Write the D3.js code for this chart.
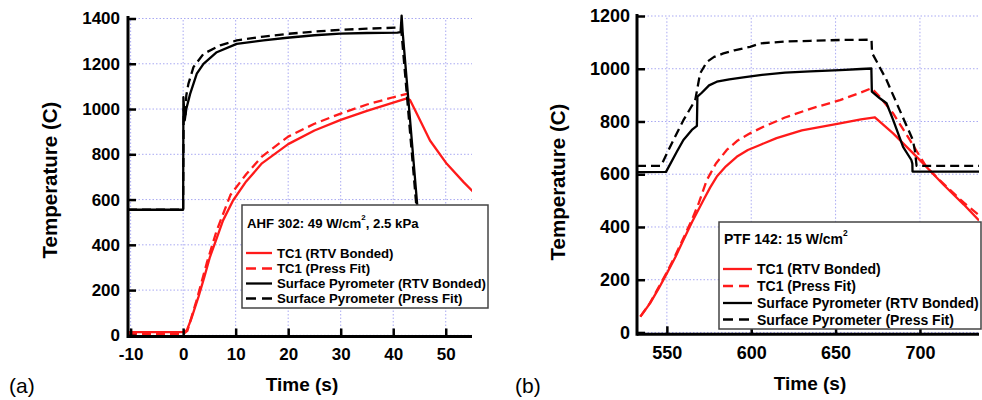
<!DOCTYPE html>
<html>
<head>
<meta charset="utf-8">
<script src="https://cdn.jsdelivr.net/npm/d3@7"></script>
<style>
  html, body { margin: 0; padding: 0; background: #fff; }
  svg { display: block; }
  text { font-family: Arial, "Liberation Sans", sans-serif; }
</style>
</head>
<body>
<svg id="fig" width="982" height="400"></svg>
<script>
// ---- Panel (a): AHF 302, time in s, temperature in C ----
const ahfTicksX = [-10, 0, 10, 20, 30, 40, 50];
const ahfTicksY = [0, 200, 400, 600, 800, 1000, 1200, 1400];
const ahfTc1Bonded = [[-10.5,14],[0,14],[0.7,22],[1.5,70],[2.9,169],[4,255],[5.1,346],[6.4,430],[7.6,508],[9.5,596],[12,680],[15,760],[20,845],[25,905],[30,952],[35,992],[40,1028],[42.6,1047],[43.2,1040],[44.5,979],[47,861],[50.2,758],[53.4,677],[55.3,633]];
const ahfTc1Press = [[-10.5,5],[0,5],[0.8,20],[2.5,150],[4.5,320],[6.4,464],[9,620],[12,712],[15,790],[20,878],[25,935],[30,980],[35,1020],[40,1052],[42.8,1068]];
const ahfPyroBonded = [[-10.5,555],[0,555],[0.05,1052],[0.3,950],[0.6,1000],[1.33,1067],[2.6,1156],[3.87,1200],[6.4,1251],[10.2,1288],[15.3,1303],[19.8,1315],[25,1326],[29.9,1333],[35,1336],[40.8,1338],[41.4,1340],[41.6,1413],[41.8,1340],[44.5,596],[45.6,300]];
const ahfPyroPress = [[-10.5,555],[0,555],[0.1,1000],[0.4,960],[0.6,1060],[1,1111],[1.96,1185],[3.87,1244],[7.05,1281],[10.2,1303],[15.3,1320],[19.8,1332],[25,1342],[29.9,1350],[35,1355],[41.2,1360],[41.5,1360],[44.3,600],[45.4,300]];

// ---- Panel (b): PTF 142 ----
const ptfTicksX = [550, 600, 650, 700];
const ptfTicksY = [0, 200, 400, 600, 800, 1000, 1200];
const ptfTc1Bonded = [[534.3,60],[540,110],[545,165],[550,224],[555,285],[559.8,351],[565,420],[571.7,502],[575.7,550],[579.6,591],[585,630],[591.4,666],[598,692],[605.2,711],[615,737],[630,766],[652.6,793],[665,808],[673.3,816],[684.1,755],[696,679],[702,640],[708,600],[714,560],[720,522],[726,485],[735,425]];
const ptfTc1Press = [[534.3,60],[540,112],[545,170],[550,228],[555,292],[560,360],[565,430],[569,492],[573.7,578],[579,640],[585.5,692],[592,728],[599.3,755],[607.2,780],[620,815],[635,848],[652.6,881],[665,910],[671.3,926],[676.2,894],[684.1,831],[694,730],[703.8,628],[710,588],[718,540],[726,492],[735,445]];
const ptfPyroBonded = [[532.3,608],[549.5,609],[555.9,685],[559.8,730],[564.8,768],[567.8,783],[568.1,894],[570.7,909],[575,937],[579.6,951],[587,960],[595.3,967],[605.2,976],[620,985],[635,990],[652.6,995],[665,999],[671.2,1001],[671.5,913],[676.2,888],[680.2,869],[684.1,806],[690,704],[694.9,654],[695.5,640],[695.6,610],[735,610]];
const ptfPyroPress = [[532.3,632],[546.5,632],[553.9,730],[559.8,805],[566.8,881],[568.5,940],[569.7,982],[573.7,1026],[578,1045],[583.5,1058],[590,1070],[599.3,1083],[605.2,1096],[620,1103],[635,1106],[652.6,1109],[671.3,1110],[671.6,1060],[675,1020],[680.2,957],[688,843],[695.8,730],[697,690],[698,632],[735,632]];

const legendLabels = ["TC1 (RTV Bonded)", "TC1 (Press Fit)", "Surface Pyrometer (RTV Bonded)", "Surface Pyrometer (Press Fit)"];
const RED = "#ff1a1a", BLACK = "#000";
const DASH = "9,5";

const svg = d3.select("#fig");
const gridColor = "#a9a9f2";

function panel(cfg) {
  const x = d3.scaleLinear().domain(cfg.xDomain).range(cfg.xRange);
  const y = d3.scaleLinear().domain(cfg.yDomain).range(cfg.yRange);
  const g = svg.append("g");
  const [x0, x1] = cfg.xRange;
  const [yb, yt] = cfg.yRange;

  // dotted grid
  g.append("g").selectAll("line.v").data(cfg.ticksX).join("line")
    .attr("x1", d => x(d)).attr("x2", d => x(d))
    .attr("y1", yb).attr("y2", y(cfg.ticksY[cfg.ticksY.length - 1]))
    .attr("stroke", gridColor).attr("stroke-width", 1).attr("stroke-dasharray", "1.5,2");
  g.append("g").selectAll("line.h").data(cfg.ticksY).join("line")
    .attr("x1", x0).attr("x2", x1)
    .attr("y1", d => y(d)).attr("y2", d => y(d))
    .attr("stroke", gridColor).attr("stroke-width", 1).attr("stroke-dasharray", "1.5,2");

  // data lines
  const clipId = "clip" + cfg.id;
  g.append("clipPath").attr("id", clipId).append("rect")
    .attr("x", x0).attr("y", 0).attr("width", x1 - x0).attr("height", yb);
  const line = d3.line().x(d => x(d[0])).y(d => y(d[1]));
  const series = [
    { data: cfg.tc1Bonded, color: RED, dash: null },
    { data: cfg.tc1Press, color: RED, dash: DASH },
    { data: cfg.pyroBonded, color: BLACK, dash: null },
    { data: cfg.pyroPress, color: BLACK, dash: DASH }
  ];
  const lines = g.append("g").attr("clip-path", `url(#${clipId})`);
  series.forEach(s => {
    lines.append("path").attr("d", line(s.data))
      .attr("fill", "none").attr("stroke", s.color).attr("stroke-width", 2.3)
      .attr("stroke-linejoin", "round")
      .attr("stroke-dasharray", s.dash);
  });

  // axes with inward ticks
  const fmt = d => String(d);
  const ax = g.append("g").attr("transform", `translate(0,${yb})`)
    .call(d3.axisBottom(x).tickValues(cfg.ticksX).tickFormat(fmt).tickSizeInner(-8).tickSizeOuter(0).tickPadding(cfg.xPad));
  const ay = g.append("g").attr("transform", `translate(${x0},0)`)
    .call(d3.axisLeft(y).tickValues(cfg.ticksY).tickFormat(fmt).tickSizeInner(-8).tickSizeOuter(0).tickPadding(cfg.yPad));
  [ax, ay].forEach(a => {
    a.select(".domain").remove();
    a.selectAll(".tick line").attr("stroke", "#000").attr("stroke-width", 2.5);
    a.selectAll(".tick text").attr("fill", "#000").attr("font-size", cfg.tickFont)
      .attr("font-weight", "bold").attr("font-family", "Arial, 'Liberation Sans', sans-serif");
  });
  g.append("line").attr("x1", x0).attr("x2", x1).attr("y1", yb).attr("y2", yb)
    .attr("stroke", "#000").attr("stroke-width", 3);
  g.append("line").attr("x1", x0).attr("x2", x0).attr("y1", yb + 1.5).attr("y2", cfg.yTop)
    .attr("stroke", "#000").attr("stroke-width", 3);

  // axis titles
  g.append("text").attr("x", cfg.xTitle[0]).attr("y", cfg.xTitle[1])
    .attr("text-anchor", "middle").attr("dominant-baseline", "central")
    .attr("font-size", cfg.titleFont).attr("font-weight", "bold").text("Time (s)");
  g.append("text")
    .attr("transform", `translate(${cfg.yTitle[0]},${cfg.yTitle[1]}) rotate(-90)`)
    .attr("text-anchor", "middle").attr("dominant-baseline", "central")
    .attr("font-size", cfg.yTitleFont).attr("font-weight", "bold").text("Temperature (C)");

  // panel letter
  g.append("text").attr("x", cfg.letter[0]).attr("y", cfg.letter[1])
    .attr("font-family", "'Liberation Serif', 'Times New Roman', serif")
    .attr("font-size", 21).attr("dominant-baseline", "central").text(cfg.letterText);

  // legend box
  const L = cfg.legend;
  const lg = g.append("g");
  lg.append("rect").attr("x", L.x).attr("y", L.y).attr("width", L.w).attr("height", L.h)
    .attr("fill", "#fff").attr("stroke", "#444").attr("stroke-width", 1.5);
  const title = lg.append("text").attr("x", L.x + 5).attr("y", L.titleY)
    .attr("font-size", L.font).attr("font-weight", "bold").attr("dominant-baseline", "central");
  title.append("tspan").text(L.titleA);
  title.append("tspan").attr("font-size", L.font * 0.6).attr("dy", -6).text("2");
  title.append("tspan").attr("dy", 6).text(L.titleB);
  series.forEach((s, i) => {
    const yy = L.rowY[i];
    lg.append("line").attr("x1", L.sx0).attr("x2", L.sx1).attr("y1", yy).attr("y2", yy)
      .attr("stroke", s.color).attr("stroke-width", 2.3).attr("stroke-dasharray", s.dash ? "10,6" : null);
    lg.append("text").attr("x", L.tx).attr("y", yy).attr("dominant-baseline", "central")
      .attr("font-size", L.font).attr("font-weight", "bold").text(legendLabels[i]);
  });
}

panel({
  id: "a",
  xDomain: [-10.5, 55], xRange: [128, 472],
  yDomain: [-5, 1400], yRange: [336.5, 18.5], yTop: 16,
  ticksX: ahfTicksX, ticksY: ahfTicksY,
  tc1Bonded: ahfTc1Bonded, tc1Press: ahfTc1Press, pyroBonded: ahfPyroBonded, pyroPress: ahfPyroPress,
  xPad: 11, yPad: 8, tickFont: 17, titleFont: 19, yTitleFont: 20.5,
  xTitle: [302, 384], yTitle: [49, 180],
  letter: [9, 385], letterText: "(a)",
  legend: { x: 242, y: 205, w: 246, h: 103, font: 13.2, titleY: 223,
            titleA: "AHF 302: 49 W/cm", titleB: ", 2.5 kPa",
            rowY: [253, 268.5, 283.5, 298.5], sx0: 246, sx1: 272, tx: 277 }
});

panel({
  id: "b",
  xDomain: [532.3, 735], xRange: [637, 979],
  yDomain: [-7, 1200], yRange: [334.3, 16], yTop: 14,
  ticksX: ptfTicksX, ticksY: ptfTicksY,
  tc1Bonded: ptfTc1Bonded, tc1Press: ptfTc1Press, pyroBonded: ptfPyroBonded, pyroPress: ptfPyroPress,
  xPad: 12, yPad: 7, tickFont: 18, titleFont: 19, yTitleFont: 20.5,
  xTitle: [810, 383], yTitle: [557, 182],
  letter: [515, 385], letterText: "(b)",
  legend: { x: 719, y: 222, w: 262, h: 107, font: 14, titleY: 239,
            titleA: "PTF 142: 15 W/cm", titleB: "",
            rowY: [269, 286, 303, 319.5], sx0: 723, sx1: 752, tx: 757 }
});
</script>
</body>
</html>
